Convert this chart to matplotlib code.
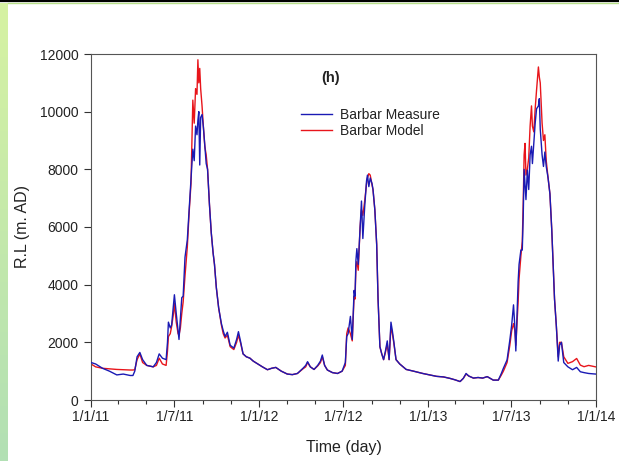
import numpy as np
import matplotlib
matplotlib.use("Agg")
import matplotlib.pyplot as plt
import matplotlib.dates as mdates
from matplotlib.colors import LinearSegmentedColormap

plt.rcParams['font.family'] = ['Liberation Sans', 'DejaVu Sans']

# days since 1 Jan 2011
days = [0, 10, 25, 40, 56, 70, 85, 91, 95, 100, 106, 112, 121, 135, 142, 148, 155, 163,
        166, 168, 172, 175, 179, 181, 185, 189, 191, 194, 197, 200, 204, 209, 213, 217,
        219, 221, 224, 227, 230, 232, 234, 236, 238, 241, 244, 247, 250, 253, 257, 261,
        265, 268, 272, 277, 283, 287, 291, 296, 302, 310, 316, 320, 325, 330, 337, 345,
        352, 360, 372, 383, 392, 401, 413, 426, 437, 448, 460, 466, 470, 476, 484, 492,
        498, 502, 507, 513, 524, 535, 545, 552, 555, 558, 563, 567, 571, 573, 575, 577,
        580, 584, 587, 590, 594, 598, 600, 603, 606, 610, 612, 616, 620, 623, 627, 631,
        635, 639, 643, 647, 651, 654, 657, 662, 670, 684, 700, 720, 735, 750, 765, 779,
        790, 801, 808, 814, 820, 830, 840, 850, 860, 873, 884, 890, 895, 903, 909, 913,
        917, 920, 922, 924, 927, 929, 933, 936, 938, 940, 942, 944, 947, 950, 953, 956,
        958, 961, 964, 967, 971, 973, 975, 979, 982, 985, 988, 992, 996, 1000, 1006,
        1010, 1014, 1017, 1021, 1026, 1035, 1045, 1054, 1062, 1070, 1080, 1095]

measure = [1300, 1250, 1100, 1000, 870, 900, 850, 850, 1000, 1500, 1650, 1400, 1200, 1150, 1300, 1600, 1450, 1400,
           2000, 2700, 2500, 2600, 3300, 3650, 3000, 2400, 2100, 2800, 3550, 3600, 4950, 5550, 6600, 7600,
           8200, 8700, 8300, 9500, 9200, 9700, 10000, 8150, 9800, 9900, 9450, 8800, 8200, 8000, 6800, 5800,
           5100, 4700, 3900, 3200, 2650, 2400, 2200, 2350, 1900, 1800, 2100, 2370, 2000, 1600, 1500, 1450,
           1350, 1270, 1150, 1050, 1100, 1130, 1000, 900, 880, 920, 1100, 1200, 1330, 1150, 1060, 1200,
           1350, 1560, 1200, 1040, 950, 920, 1000, 1300, 2200, 2300, 2900, 2100, 3800, 3600, 4850, 5250,
           4700, 6000, 6900, 5600, 6700, 7600, 7800, 7400, 7700, 7500, 7300, 6600, 5400, 3500, 1850, 1600,
           1400, 1700, 2050, 1400, 2700, 2400, 2050, 1400, 1250, 1060, 1000, 920, 870, 820, 800, 750,
           700, 640, 750, 920, 830, 760, 780, 760, 810, 690, 690, 900, 1100, 1390, 2080, 2600,
           3300, 2500, 1700, 2650, 4100, 4700, 5200, 5200, 6350, 8000, 7500, 6950, 7970, 7300, 8500, 8800,
           8200, 8900, 9600, 10100, 10200, 10450, 9400, 8500, 8100, 8600, 8100, 7700, 7150, 5900, 3500,
           2550, 1350, 1900, 2000, 1300, 1150, 1050, 1130, 980, 950, 920, 900]

model = [1250, 1150, 1100, 1080, 1060, 1050, 1040, 1040, 1050, 1400, 1600, 1300, 1200, 1150, 1200, 1450, 1250, 1200,
         1700, 2200, 2300, 2550, 3000, 3350, 2700, 2300, 2250, 2500, 3000, 3400, 4300, 5300, 6500, 7500,
         9000, 10400, 9600, 10800, 10600, 11800, 11000, 11500, 10800, 10200, 9450, 8800, 8500, 8000, 6800, 5800,
         5100, 4700, 3900, 3200, 2600, 2300, 2150, 2250, 1850, 1750, 2000, 2250, 1950, 1600, 1500, 1450,
         1350, 1270, 1150, 1050, 1100, 1130, 1000, 900, 880, 920, 1080, 1150, 1300, 1150, 1060, 1180,
         1300, 1500, 1200, 1040, 950, 920, 1000, 1200, 2300, 2500, 2300, 2050, 3600, 3500, 4600, 4800,
         4500, 6000, 6600, 6400, 6900, 7500, 7700, 7850, 7800, 7450, 7300, 6600, 5400, 3500, 1850, 1600,
         1400, 1650, 1950, 1400, 2550, 2300, 2000, 1400, 1250, 1060, 1000, 920, 870, 820, 800, 750,
         700, 640, 750, 900, 830, 760, 780, 760, 810, 690, 690, 850, 1000, 1300, 1900, 2400,
         2650, 2400, 1900, 2500, 3400, 4200, 5000, 5500, 6800, 8500, 8900, 7800, 8000, 8400, 9500, 10200,
         9500, 9300, 10100, 10750, 11550, 11200, 11000, 9600, 9000, 9200, 8300, 7700, 7150, 5900, 3500,
         2550, 1500, 2000, 2000, 1500, 1270, 1330, 1440, 1210, 1155, 1200, 1150]

x_labels = ['1/1/11', '1/7/11', '1/1/12', '1/7/12', '1/1/13', '1/7/13', '1/1/14']
y_ticks = [0, 2000, 4000, 6000, 8000, 10000, 12000]

start = np.datetime64('2011-01-01')
dates = start + np.array(days).astype('timedelta64[D]')

W, H = 619, 461
fig = plt.figure(figsize=(W / 100, H / 100), dpi=100)

# decorative left strip and top line
sax = fig.add_axes([0, 0, 8 / W, 1 - 3 / H])
cmap = LinearSegmentedColormap.from_list('g', ['#d6f2a2', '#b2e0b4'])
sax.imshow(np.linspace(0, 1, 100).reshape(-1, 1), aspect='auto', cmap=cmap)
sax.axis('off')
fig.add_artist(plt.Line2D([0, 1], [1 - 1 / H, 1 - 1 / H], color='black', lw=1.6))
fig.add_artist(plt.Line2D([8 / W, 1], [1 - 3.2 / H, 1 - 3.2 / H], color='#b8e08a', lw=1.0))

ax = fig.add_axes([91 / W, (H - 400) / H, (596 - 91) / W, (400 - 54) / H])
ax.plot(dates, model, color='#e8151b', lw=1.0, label='Barbar Model', zorder=2)
ax.plot(dates, measure, color='#1a1ab4', lw=1.0, label='Barbar Measure', zorder=3)

ax.set_xlim(np.datetime64('2011-01-01'), np.datetime64('2014-01-01'))
ax.set_ylim(0, 12000)
ax.set_yticks(y_ticks)
ax.set_yticklabels([str(v) for v in y_ticks], fontsize=10, color='#222222')

major = [np.datetime64(d) for d in ['2011-01-01', '2011-07-01', '2012-01-01', '2012-07-01',
                                    '2013-01-01', '2013-07-01', '2014-01-01']]
ax.set_xticks([mdates.date2num(d) for d in major])
ax.set_xticklabels(x_labels, fontsize=10, color='#222222')
ax.xaxis.set_minor_locator(mdates.MonthLocator(bymonth=[3, 5, 9, 11]))
ax.tick_params(axis='both', which='major', direction='out', length=5, width=0.8, color='#333333', pad=4)
ax.tick_params(axis='x', which='major', pad=2)
ax.tick_params(axis='x', which='minor', direction='out', length=3, width=0.8, color='#333333')
for s in ax.spines.values():
    s.set_color('#555555')
    s.set_linewidth(0.8)

ax.set_xlabel('Time (day)', fontsize=11.5, labelpad=12, color='#222222')
ax.set_ylabel('R.L (m. AD)', fontsize=11.5, labelpad=7, color='#222222')

ax.text(0.475, 0.93, '(h)', transform=ax.transAxes, ha='center', va='center',
        fontsize=10.5, fontweight='bold', color='#222222')
handles, labels = ax.get_legend_handles_labels()
leg = ax.legend(handles[::-1], labels[::-1], loc='upper left', bbox_to_anchor=(0.405, 0.86),
                frameon=False, fontsize=10, handlelength=2.2, handletextpad=0.6,
                labelspacing=0.15, borderaxespad=0)
for t in leg.get_texts():
    t.set_color('#222222')
for l in leg.get_lines():
    l.set_linewidth(1.0)

fig.savefig('out.png', dpi=100)
